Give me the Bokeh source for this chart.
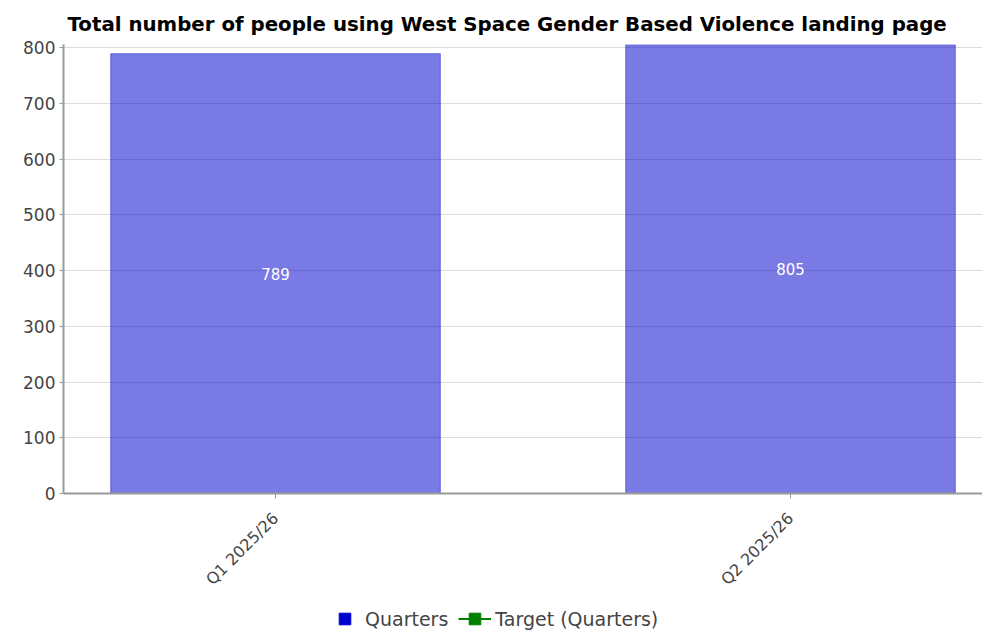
import math
from bokeh.plotting import figure
from bokeh.layouts import column
from bokeh.models import ColumnDataSource, Legend, LegendItem, FixedTicker, Range1d
from bokeh.core.properties import value
from bokeh.embed import file_html
from bokeh.resources import INLINE

categories = ["Q1 2025/26", "Q2 2025/26"]
quarters = [789, 805]
target = [float("nan"), float("nan")]  # no target values shown
y_ticks = [0, 100, 200, 300, 400, 500, 600, 700, 800]

xs = list(range(len(categories)))
src = ColumnDataSource(dict(x=xs, top=quarters, mid=[v / 2 for v in quarters],
                            label=[str(v) for v in quarters], target=target))

FONT = "DejaVu Sans"
W = 982
AXIS_COLOR = "#9a9a9a"

p = figure(width=W, height=604, output_backend="svg", toolbar_location=None,
           x_range=Range1d(-0.4117, 1.3728), y_range=Range1d(0, 805.4),
           min_border_left=63, min_border_right=0, min_border_top=44, min_border_bottom=111)

p.title.text = "Total number of people using West Space Gender Based Violence landing page"
p.title.text_font = FONT
p.title.text_font_size = "19.8px"
p.title.text_font_style = "bold"
p.title.text_color = "#000000"
p.title.align = "left"
p.title.offset = 4
p.title.standoff = 18

p.vbar(x="x", top="top", width=0.64, source=src, fill_color="#0000CC", fill_alpha=0.52,
       line_color="#0000CC", line_alpha=0.45, line_width=1)
p.text(x="x", y="mid", text="label", source=src, text_color="white",
       text_font=value(FONT), text_font_size="15px", text_align="center", text_baseline="middle")

p.xgrid.grid_line_color = None
p.ygrid.grid_line_color = "#dddddd"
p.ygrid.ticker = FixedTicker(ticks=y_ticks)
p.outline_line_color = None

p.yaxis.ticker = FixedTicker(ticks=y_ticks)
p.yaxis.axis_line_color = AXIS_COLOR
p.yaxis.axis_line_width = 2
p.yaxis.major_tick_line_color = AXIS_COLOR
p.yaxis.major_tick_out = 4
p.yaxis.major_tick_in = 0
p.yaxis.minor_tick_line_color = None
p.yaxis.major_label_text_font = FONT
p.yaxis.major_label_text_font_size = "17px"
p.yaxis.major_label_text_color = "#444444"
p.yaxis.major_label_standoff = 4

p.xaxis.ticker = FixedTicker(ticks=xs)
p.xaxis.major_label_overrides = {i: c for i, c in zip(xs, categories)}
p.xaxis.major_label_orientation = math.pi / 4
p.xaxis.axis_line_color = AXIS_COLOR
p.xaxis.axis_line_width = 2
p.xaxis.major_tick_line_color = AXIS_COLOR
p.xaxis.major_tick_out = 5
p.xaxis.major_tick_in = 0
p.xaxis.minor_tick_line_color = None
p.xaxis.major_label_text_font = FONT
p.xaxis.major_label_text_font_size = "16px"
p.xaxis.major_label_text_color = "#444444"
p.xaxis.major_label_standoff = 17

# legend strip below the chart
lg = figure(width=W, height=29, output_backend="svg", toolbar_location=None,
            x_range=Range1d(-0.4117, 1.3728), y_range=Range1d(0, 805.4),
            x_axis_type=None, y_axis_type=None,
            min_border_left=0, min_border_right=0, min_border_top=0, min_border_bottom=0)
lg.outline_line_color = None
lg.xgrid.grid_line_color = None
lg.ygrid.grid_line_color = None
q_leg = lg.scatter(x="x", y="top", source=src, marker="square", size=0,
                   fill_color="#0000CC", line_color="#0000CC")
t_line = lg.line(x="x", y="target", source=src, line_color="green", line_width=2)
t_mark = lg.scatter(x="x", y="target", source=src, marker="square", size=9,
                    fill_color="green", line_color="green")
legend = Legend(items=[LegendItem(label="Quarters", renderers=[q_leg]),
                       LegendItem(label="Target (Quarters)", renderers=[t_line, t_mark])],
                orientation="horizontal", location=(265, 0),
                border_line_color=None, background_fill_alpha=0,
                label_text_font=FONT, label_text_font_size="19px", label_text_color="#444444",
                glyph_width=33, glyph_height=29, spacing=10, label_standoff=4,
                padding=0, margin=0)
lg.add_layout(legend, "center")

layout = column(p, lg, spacing=0)
open("out.html", "w").write(file_html(layout, INLINE))
